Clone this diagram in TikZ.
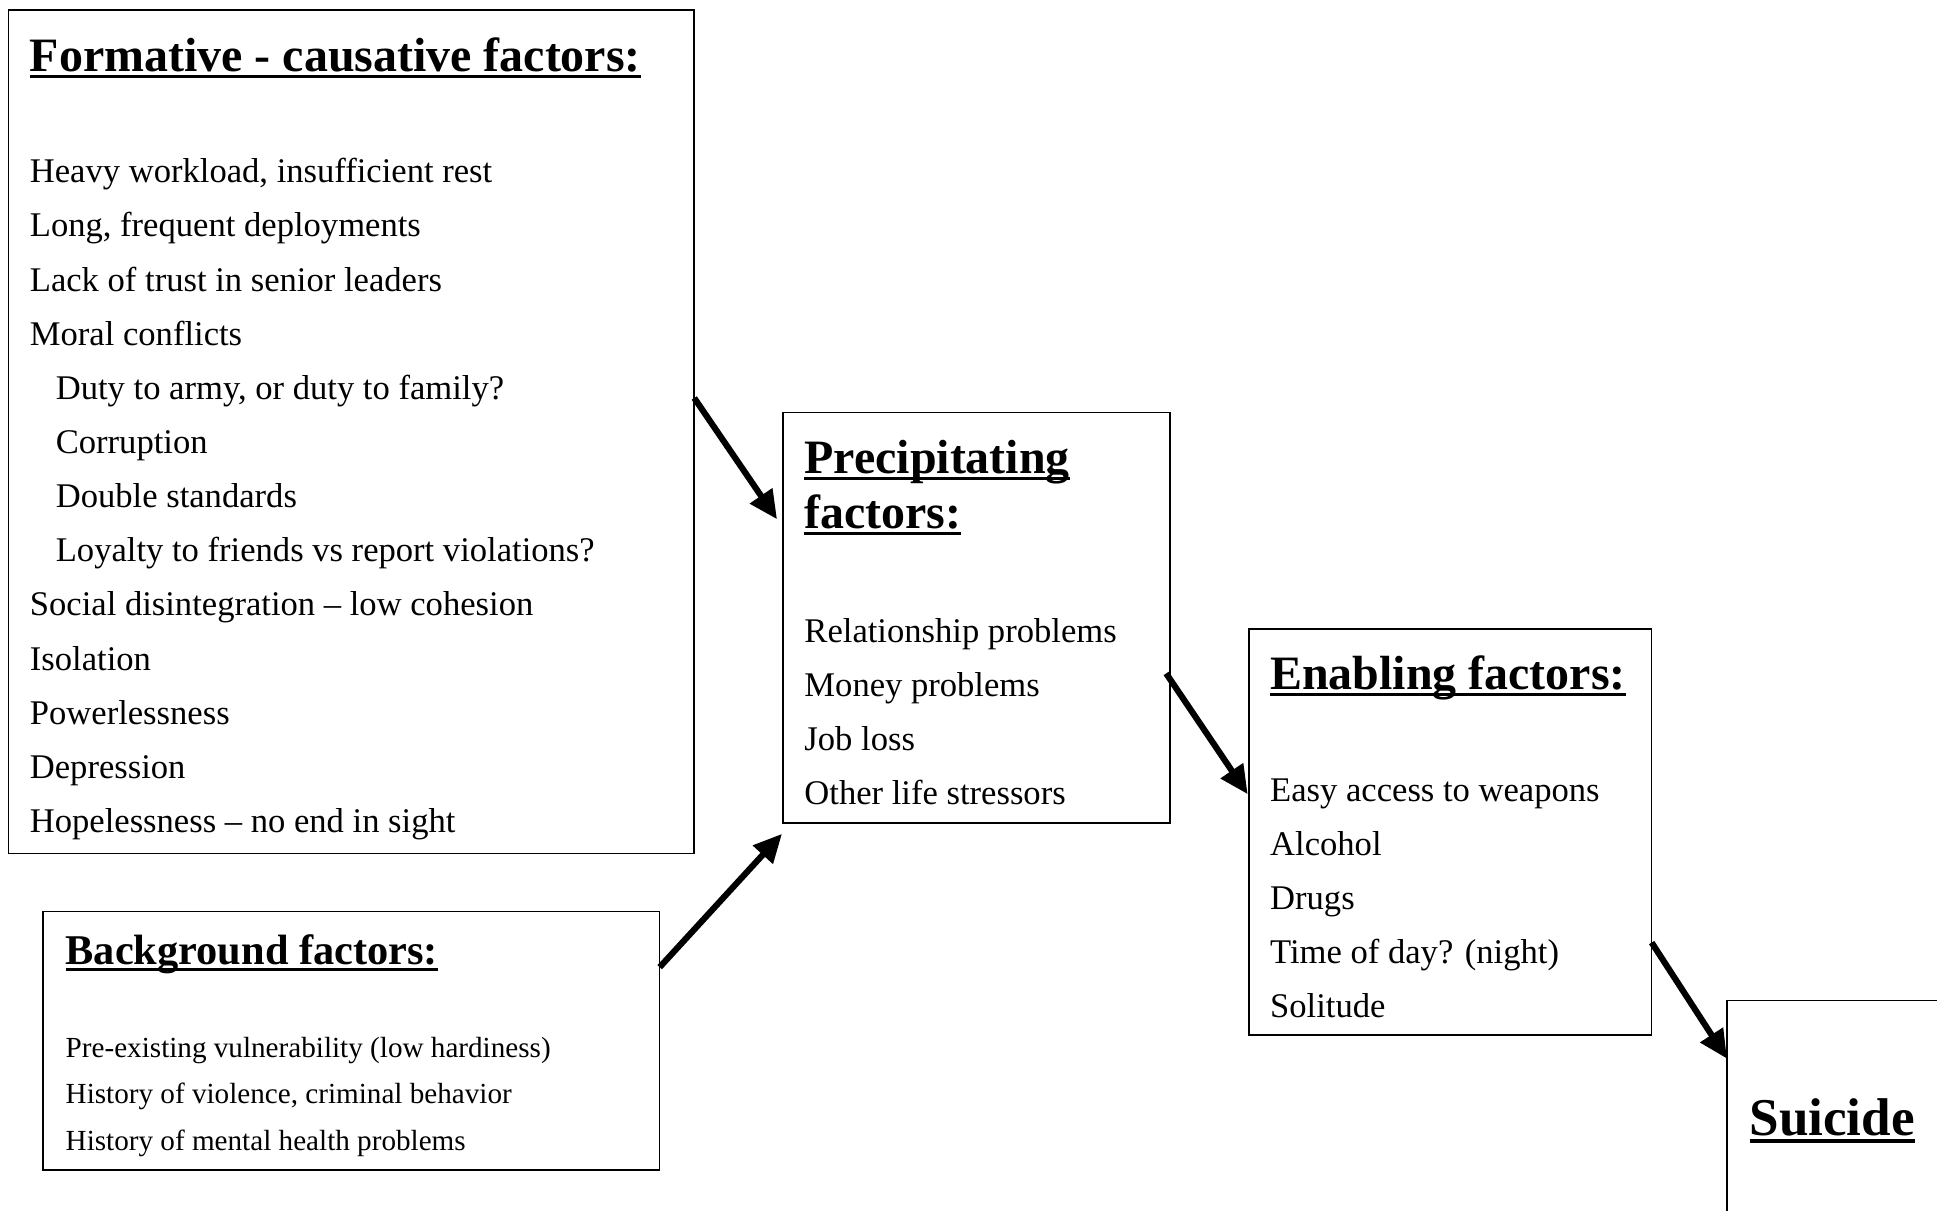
\documentclass[tikz,border=0pt]{standalone}
\usepackage{fontspec}
\setmainfont{Liberation Serif}
\usetikzlibrary{arrows.meta,calc}
\newsavebox\ulsave
\newcommand\ulbox[1]{\sbox\ulsave{#1}\rlap{\rule[-0.14em]{\wd\ulsave}{0.065em}}\usebox\ulsave}
\begin{document}
\begin{tikzpicture}[x=1pt,y=-1pt,
  box/.style={draw,line width=1.3pt,inner sep=0pt,outer sep=0pt,anchor=north west,rectangle},
  txt/.style={anchor=base west,inner sep=0pt,font=\fontsize{28}{34}\selectfont},
  smalltxt/.style={anchor=base west,inner sep=0pt,font=\fontsize{23.6}{28}\selectfont},
  ttl/.style={anchor=base west,inner sep=0pt,font=\fontsize{38.8}{44}\selectfont\bfseries},
  arr/.style={line width=5pt,-{Triangle[length=23pt,width=21pt]}}]
\useasboundingbox (0,0) rectangle (1568,980);
\clip (0,0) rectangle (1568,980);
% boxes
\node[box,minimum width=555pt,minimum height=683pt] (form) at (7,8) {};
\node[box,minimum width=313pt,minimum height=332pt] (prec) at (634,334) {};
\node[box,minimum width=326pt,minimum height=329pt] (enab) at (1011,509) {};
\node[box,minimum width=499pt,minimum height=209pt] (back) at (35,738) {};
\node[box,minimum width=260pt,minimum height=260pt] (sui) at (1398,810) {};
% formative
\node[ttl] (formt) at (24,58) {\ulbox{Formative - causative factors:}};
\foreach \xx/\t [count=\i] in {24/{Heavy workload, insufficient rest},
  24/{Long, frequent deployments},
  24/{Lack of trust in senior leaders},
  24/{Moral conflicts},
  45/{Duty to army, or duty to family?},
  45/{Corruption},
  45/{Double standards},
  45/{Loyalty to friends vs report violations?},
  24/{Social disintegration -- low cohesion},
  24/{Isolation},
  24/{Powerlessness},
  24/{Depression},
  24/{Hopelessness -- no end in sight}}
  \node[txt] (f\i) at (\xx,{148+43.83*(\i-1)}) {\t};
% precipitating
\node[ttl] (prect1) at (651,383) {\ulbox{Precipitating}};
\node[ttl] (prect2) at (651,428) {\ulbox{factors:}};
\foreach \t [count=\i] in {Relationship problems,Money problems,Job loss,Other life stressors}
  \node[txt] (p\i) at (651,{520+43.7*(\i-1)}) {\t};
% enabling
\node[ttl] (enabt) at (1028,558) {\ulbox{Enabling factors:}};
\foreach \t [count=\i] in {Easy access to weapons,Alcohol,Drugs,Time of day? (night),Solitude}
  \node[txt] (e\i) at (1028,{649+43.6*(\i-1)}) {\t};
% background
\node[ttl,font=\fontsize{34.3}{40}\selectfont\bfseries] (backt) at (53,781) {\ulbox{Background factors:}};
\foreach \t [count=\i] in {Pre-existing vulnerability (low hardiness),{History of violence, criminal behavior},History of mental health problems}
  \node[smalltxt] (b\i) at (53,{856+37.5*(\i-1)}) {\t};
% suicide
\node[ttl,font=\fontsize{43}{48}\selectfont\bfseries] (suit) at (1416,919) {\ulbox{Suicide}};
% arrows
\draw[arr] ($(form.north east)!0.46!(form.south east)$) -- ($(prec.north west)!0.26!(prec.south west)+(-5pt,0)$);
\draw[arr] ($(back.north east)!0.215!(back.south east)$) -- ($(prec.south west)+(-1pt,-9pt)$);
\draw[arr] ($(prec.north east)!0.636!(prec.south east)+(-3pt,0)$) -- ($(enab.north west)!0.407!(enab.south west)+(-1pt,0)$);
\draw[arr] ($(enab.north east)!0.772!(enab.south east)$) -- ($(sui.north west)+(0,-47pt)$);
\end{tikzpicture}
\end{document}
